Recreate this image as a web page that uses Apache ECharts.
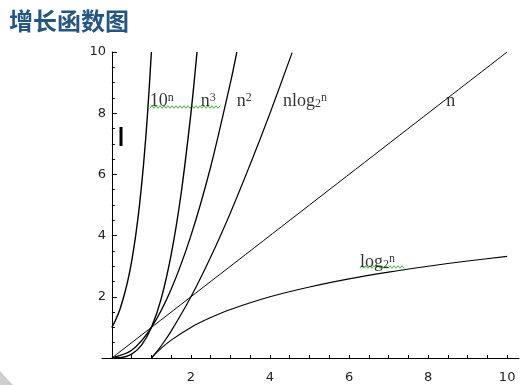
<!DOCTYPE html>
<html>
<head>
<meta charset="utf-8">
<script src="https://cdn.jsdelivr.net/npm/echarts@6/dist/echarts.min.js"></script>
<style>html,body{margin:0;padding:0;background:#fff;}#c{width:530px;height:385px;}</style>
</head>
<body>
<div id="c"></div>
<script>
// ---- data ----
var title = '增长函数图';
var xTickLabels = [2, 4, 6, 8, 10];
var xTicks = [0, 0.5, 1, 1.5, 2, 2.5, 3, 3.5, 4, 4.5, 5, 5.5, 6, 6.5, 7, 7.5, 8, 8.5, 9, 9.5, 10];
var yTickLabels = [2, 4, 6, 8, 10];

var exp10X = [0, 0.1, 0.2, 0.3, 0.4, 0.5, 0.6, 0.7, 0.8, 0.9, 1.0];
var exp10Y = [1, 1.26, 1.58, 2.00, 2.51, 3.16, 3.98, 5.01, 6.31, 7.94, 10];

var cubeX = [0, 0.25, 0.5, 0.75, 1, 1.25, 1.5, 1.75, 2, 2.154];
var cubeY = [0, 0.016, 0.125, 0.42, 1, 1.95, 3.375, 5.36, 8, 10];

var sqX = [0, 0.5, 1, 1.5, 2, 2.5, 3, 3.162];
var sqY = [0, 0.25, 1, 2.25, 4, 6.25, 9, 10];

var nlogX = [1, 1.25, 1.5, 2, 2.5, 3, 3.5, 4, 4.56];
var nlogY = [0, 0.40, 0.877, 2, 3.30, 4.75, 6.33, 8, 9.98];

var linX = [0, 10];
var linY = [0, 10];

var logX = [1, 1.25, 1.5, 2, 2.5, 3, 4, 5, 6, 7, 8, 9, 10];
var logY = [0, 0.32, 0.585, 1, 1.32, 1.585, 2, 2.32, 2.585, 2.807, 3, 3.17, 3.32];

// label text pieces: base, subscript, superscript
var labelBase = ['10', 'n', 'n', 'nlog', 'n', 'log'];
var labelSub = ['', '', '', '2', '', '2'];
var labelSup = ['n', '3', '2', 'n', '', 'n'];
var labelX = [0.96, 2.25, 3.16, 4.33, 8.46, 6.28];
var labelY = [8.4, 8.4, 8.4, 8.4, 8.4, 3.14];

function pairs(xs, ys) { return xs.map(function (x, i) { return [x, ys[i]]; }); }

function curve(name, xs, ys, w) {
  return {
    name: name, type: 'line', data: pairs(xs, ys), smooth: 0.3,
    showSymbol: false, symbol: 'none', silent: true,
    lineStyle: { color: '#000', width: w }
  };
}

function wavy(x0, x1, y) {
  var pts = [];
  var k = 0;
  for (var x = x0; x <= x1; x += 2) { pts.push([x, y + (k % 2 ? -1.3 : 1.3)]); k++; }
  return { type: 'polyline', shape: { points: pts }, style: { stroke: '#3cb83c', lineWidth: 1, fill: null }, silent: true };
}

var serif = 'Liberation Serif, DejaVu Serif, serif';

var chart = echarts.init(document.getElementById('c'), null, { renderer: 'canvas' });
var option = {
  animation: false,
  backgroundColor: '#fff',
  title: {
    text: title, left: 4, top: 4,
    textStyle: { fontFamily: 'Noto Sans CJK SC', fontWeight: 'bold', fontSize: 24, color: '#245683' }
  },
  grid: { left: 102, right: 11, top: 52, bottom: 27, containLabel: false },
  xAxis: {
    type: 'value', min: -0.25, max: 10.3,
    splitLine: { show: false },
    axisLine: { onZero: true, lineStyle: { color: '#000', width: 1 } },
    axisTick: { inside: true, length: 3, customValues: xTicks, lineStyle: { color: '#000' } },
    axisLabel: { customValues: xTickLabels, margin: 13, fontFamily: 'DejaVu Sans', fontSize: 13, color: '#222' }
  },
  yAxis: {
    type: 'value', min: 0, max: 10, interval: 2,
    splitLine: { show: false },
    axisLine: { onZero: true, lineStyle: { color: '#000', width: 1 } },
    axisTick: { inside: true, length: 5, lineStyle: { color: '#000' } },
    minorTick: { show: true, splitNumber: 4, length: 3, lineStyle: { color: '#000' } },
    axisLabel: {
      margin: -4, fontFamily: 'DejaVu Sans', fontSize: 13, color: '#222',
      formatter: function (v) { return yTickLabels.indexOf(v) >= 0 ? String(v) : ''; }
    }
  },
  series: [
    curve('10^n', exp10X, exp10Y, 1.4),
    curve('n^3', cubeX, cubeY, 1.4),
    curve('n^2', sqX, sqY, 1.3),
    curve('nlog2n', nlogX, nlogY, 1.2),
    curve('n', linX, linY, 1),
    curve('log2n', logX, logY, 1.1),
    {
      type: 'scatter', symbolSize: 0, silent: true,
      data: labelBase.map(function (t, i) { return { value: [labelX[i], labelY[i]], name: String(i) }; }),
      label: {
        show: true, position: 'right', distance: 0,
        formatter: function (p) {
          var i = +p.name;
          var s = '{b|' + labelBase[i] + '}';
          if (labelSub[i]) s += '{sub|' + labelSub[i] + '}';
          if (labelSup[i]) s += '{sup|' + labelSup[i] + '}';
          return s;
        },
        rich: {
          b: { fontFamily: serif, fontSize: 18, color: '#000', lineHeight: 20, verticalAlign: 'middle' },
          sub: { fontFamily: serif, fontSize: 12, color: '#000', lineHeight: 20, verticalAlign: 'bottom', padding: [0, 0, 1, 0] },
          sup: { fontFamily: serif, fontSize: 12, color: '#000', lineHeight: 20, verticalAlign: 'top', padding: [1, 0, 0, 0] }
        }
      }
    }
  ],
  graphic: [
    wavy(150, 221, 107),
    wavy(360, 404, 267),
    { type: 'rect', shape: { x: 119.5, y: 127, width: 3, height: 19 }, style: { fill: '#000' }, silent: true },
    { type: 'polygon', shape: { points: [[0, 371], [0, 385], [13, 385]] }, style: { fill: '#cfcfcf' }, silent: true }
  ]
};
chart.setOption(option);
</script>
</body>
</html>
